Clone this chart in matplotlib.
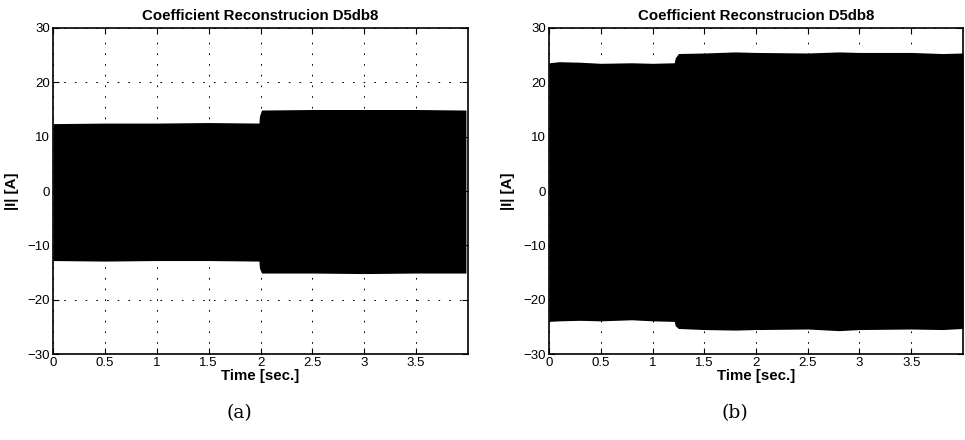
import matplotlib
matplotlib.use("Agg")
import matplotlib.pyplot as plt

plt.rcParams['font.family'] = ['Liberation Sans', 'DejaVu Sans']
plt.rcParams['lines.scale_dashes'] = False

# ---- data (envelope of the reconstructed coefficient signal) ----
title_text = "Coefficient Reconstrucion D5db8"
xlabel_text = "Time [sec.]"
ylabel_text = "|I| [A]"
xticks = [0, 0.5, 1, 1.5, 2, 2.5, 3, 3.5]
xtick_labels = ["0", "0.5", "1", "1.5", "2", "2.5", "3", "3.5"]
yticks = [-30, -20, -10, 0, 10, 20, 30]

# panel (a)
t_a = [0.0, 0.5, 1.0, 1.5, 1.985, 1.99, 2.01, 2.5, 3.0, 3.5, 3.98]
upper_a = [12.4, 12.5, 12.5, 12.6, 12.5, 13.8, 14.9, 15.0, 15.0, 15.0, 14.9]
lower_a = [-12.8, -12.9, -12.8, -12.8, -12.9, -14.2, -15.1, -15.1, -15.2, -15.1, -15.1]

# panel (b)
t_b = [0.0, 0.1, 0.3, 0.5, 0.8, 1.0, 1.21, 1.22, 1.25, 1.5, 1.8, 2.0, 2.5, 2.8, 3.0, 3.5, 3.8, 4.0]
upper_b = [23.6, 23.8, 23.7, 23.5, 23.6, 23.5, 23.6, 24.5, 25.3, 25.4, 25.6, 25.5, 25.4, 25.6, 25.5, 25.5, 25.3, 25.4]
lower_b = [-24.0, -23.9, -23.8, -23.9, -23.7, -23.9, -24.0, -24.8, -25.3, -25.5, -25.6, -25.5, -25.4, -25.7, -25.5, -25.4, -25.5, -25.3]

captions = ["(a)", "(b)"]

fig = plt.figure(figsize=(9.65, 4.4), dpi=100)
ax_a = fig.add_axes([53/965, 1-354/440, 415/965, 326/440])
ax_b = fig.add_axes([549/965, 1-354/440, 414/965, 326/440])

for ax, t, up, lo, cap in [(ax_a, t_a, upper_a, lower_a, captions[0]),
                           (ax_b, t_b, upper_b, lower_b, captions[1])]:
    ax.fill_between(t, lo, up, color='black', linewidth=0, zorder=2)
    ax.set_xlim(0, 4)
    ax.set_ylim(-30, 30)
    ax.set_xticks(xticks)
    ax.set_xticklabels(xtick_labels)
    ax.set_yticks(yticks)
    ax.tick_params(direction='in', top=True, right=True, labelsize=9.5,
                   length=4, width=0.8, pad=2, colors='black')
    ax.grid(True, color='black', linestyle=(0, (1.2, 6.5)), linewidth=0.7)
    ax.set_axisbelow(True)
    for s in ax.spines.values():
        s.set_linewidth(1.2)
        s.set_zorder(5)
    ax.set_title(title_text, fontsize=10.8, fontweight='bold', pad=6)
    ax.set_xlabel(xlabel_text, fontsize=10.8, fontweight='bold', labelpad=0)
    ax.set_ylabel(ylabel_text, fontsize=10.8, fontweight='bold', labelpad=6)
    bb = ax.get_position()
    fig.text(bb.x0 + bb.width*0.45, 1-413/440, cap, ha='center', va='center',
             fontsize=13.5, family=['DejaVu Serif'])

fig.savefig("out.png", dpi=100)
